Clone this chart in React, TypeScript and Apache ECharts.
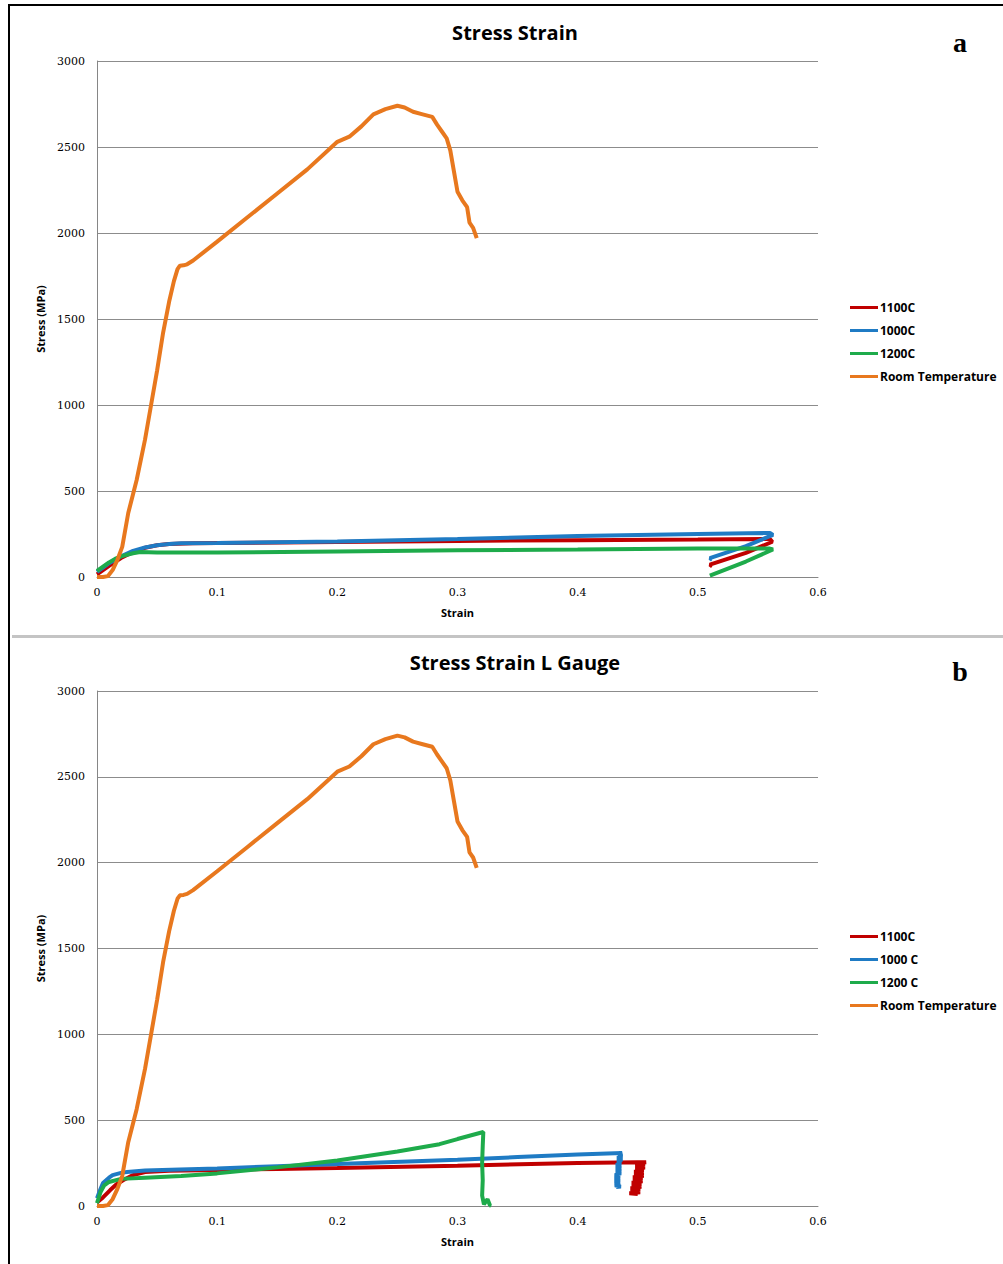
import React, { useEffect, useRef } from "react";
import * as echarts from "echarts";

// ---------- data ----------
const xTicks = [0, 0.1, 0.2, 0.3, 0.4, 0.5, 0.6];
const yTicks = [0, 500, 1000, 1500, 2000, 2500, 3000];

const legendA = ["1100C", "1000C", "1200C", "Room Temperature"];
const legendB = ["1100C", "1000 C", "1200 C", "Room Temperature"];

// Room temperature (same in both panels)
const rtStrain = [0, 0.005, 0.009, 0.013, 0.017, 0.021, 0.026, 0.033, 0.04, 0.045, 0.05, 0.055, 0.06, 0.064, 0.067, 0.069, 0.072, 0.075, 0.08, 0.1, 0.125, 0.15, 0.175, 0.2, 0.21, 0.22, 0.23, 0.24, 0.25, 0.256, 0.263, 0.271, 0.279, 0.283, 0.287, 0.291, 0.294, 0.297, 0.3, 0.304, 0.308, 0.31, 0.313, 0.316];
const rtStress = [0, 0, 5, 40, 100, 175, 372, 564, 800, 1000, 1200, 1420, 1600, 1720, 1790, 1810, 1812, 1818, 1840, 1950, 2090, 2230, 2370, 2530, 2560, 2620, 2690, 2720, 2740, 2730, 2705, 2690, 2675, 2630, 2590, 2550, 2480, 2360, 2240, 2190, 2150, 2060, 2030, 1970];

// Panel a
const aRedStrain = [0, 0.005, 0.01, 0.02, 0.03, 0.04, 0.05, 0.06, 0.08, 0.1, 0.2, 0.3, 0.4, 0.5, 0.56, 0.562, 0.54, 0.51, 0.512];
const aRedStress = [15, 40, 65, 110, 145, 170, 185, 192, 196, 198, 203, 210, 214, 218, 221, 205, 140, 72, 62];
const aBlueStrain = [0, 0.005, 0.01, 0.02, 0.03, 0.04, 0.05, 0.06, 0.07, 0.1, 0.2, 0.3, 0.4, 0.5, 0.56, 0.5625, 0.54, 0.51, 0.512];
const aBlueStress = [30, 55, 80, 120, 152, 172, 185, 192, 196, 198, 206, 221, 238, 250, 256, 245, 180, 110, 100];
const aGreenStrain = [0, 0.005, 0.01, 0.015, 0.02, 0.03, 0.036, 0.05, 0.1, 0.2, 0.3, 0.4, 0.5, 0.56, 0.5625, 0.54, 0.51];
const aGreenStress = [35, 60, 85, 105, 120, 138, 145, 143, 142, 148, 155, 160, 166, 165, 160, 90, 8];

// Panel b
const bRedStrain = [0, 0.005, 0.011, 0.016, 0.022, 0.03, 0.04, 0.06, 0.1, 0.15, 0.2, 0.3, 0.4, 0.45, 0.457,
  0.449, 0.456, 0.448, 0.456, 0.448, 0.455, 0.447, 0.455, 0.447, 0.455, 0.446, 0.454, 0.446, 0.454, 0.445, 0.453, 0.445, 0.453, 0.444, 0.452, 0.444, 0.452, 0.443, 0.45];
const bRedStress = [20, 50, 93, 125, 151, 180, 198, 205, 210, 216, 222, 235, 250, 255, 255,
  248, 240, 232, 224, 216, 208, 200, 192, 184, 176, 168, 160, 152, 144, 136, 128, 120, 112, 104, 96, 88, 80, 74, 70];
const bBlueStrain = [0, 0.003, 0.005, 0.01, 0.013, 0.02, 0.025, 0.04, 0.069, 0.1, 0.15, 0.2, 0.3, 0.35, 0.4, 0.437,
  0.434, 0.437, 0.433, 0.437, 0.433, 0.436, 0.432, 0.436, 0.432, 0.436, 0.432, 0.436, 0.431, 0.435, 0.431, 0.435, 0.431, 0.435, 0.431, 0.436, 0.432];
const bBlueStress = [45, 100, 134, 165, 180, 193, 198, 207, 213, 218, 232, 245, 270, 285, 300, 309,
  300, 290, 280, 270, 260, 250, 240, 230, 220, 210, 200, 190, 180, 170, 160, 150, 140, 130, 120, 113, 110];
const bGreenStrain = [0, 0.003, 0.006, 0.01, 0.02, 0.04, 0.07, 0.1, 0.15, 0.2, 0.25, 0.285, 0.3, 0.3215, 0.321, 0.3205, 0.321, 0.3205, 0.322, 0.325, 0.327, 0.326];
const bGreenStress = [17, 82, 120, 140, 158, 165, 175, 190, 225, 265, 318, 360, 390, 431, 350, 250, 150, 60, 10, 40, 5, 0];

const RED = "#c00000";
const BLUE = "#1f7bc4";
const GREEN = "#1eab4b";
const ORANGE = "#e8781e";

const pair = (xs: number[], ys: number[]) => xs.map((x, i) => [x, ys[i]]);

export default function App() {
  const ref = useRef<HTMLDivElement>(null);
  useEffect(() => {
    document.body.style.margin = "0";
    const chart = echarts.init(ref.current!, null, { renderer: "svg" });
    const tickFont = { fontFamily: "DejaVu Serif", fontSize: 11, color: "#000" };
    const nameFont = { fontFamily: "Open Sans", fontWeight: "bold", fontSize: 11, color: "#000" };
    const mkX = (gi: number) => ({
      type: "value",
      gridIndex: gi,
      min: xTicks[0],
      max: xTicks[xTicks.length - 1],
      interval: 0.1,
      name: "Strain",
      nameLocation: "middle",
      nameGap: 30,
      nameTextStyle: nameFont,
      axisLine: { show: true, lineStyle: { color: "#868686", width: 1 } },
      axisTick: { show: false },
      splitLine: { show: false },
      axisLabel: { ...tickFont, margin: 10, formatter: (v: number) => String(+v.toFixed(1)) },
    });
    const mkY = (gi: number) => ({
      type: "value",
      gridIndex: gi,
      min: yTicks[0],
      max: yTicks[yTicks.length - 1],
      interval: 500,
      name: "Stress (MPa)",
      nameLocation: "middle",
      nameGap: 50,
      nameRotate: 90,
      nameTextStyle: nameFont,
      axisLine: { show: true, lineStyle: { color: "#868686", width: 1 } },
      axisTick: { show: false },
      splitLine: { show: true, lineStyle: { color: "#8c8c8c", width: 1 } },
      axisLabel: { ...tickFont, margin: 12, formatter: (v: number) => String(v) },
    });
    const line = (name: string, color: string, data: number[][], gi: number) => ({
      type: "line",
      name,
      xAxisIndex: gi,
      yAxisIndex: gi,
      data,
      showSymbol: false,
      symbol: "none",
      smooth: false,
      lineStyle: { color, width: 4 },
      itemStyle: { color },
      emphasis: { disabled: true },
    });
    const legendCommon = {
      orient: "vertical",
      left: 850,
      padding: 0,
      icon: "rect",
      itemWidth: 28,
      itemHeight: 3,
      itemGap: 8,
      textStyle: { fontFamily: "Open Sans", fontWeight: "bold", fontSize: 12, lineHeight: 15, color: "#000", padding: [0, 0, 0, -3] },
    };
    const titleStyle = { fontFamily: "Open Sans", fontWeight: "bold", fontSize: 20, color: "#000" };
    chart.setOption({
      animation: false,
      backgroundColor: "#fff",
      title: [
        { text: "Stress Strain", left: 510, top: 17, textAlign: "center", textStyle: titleStyle },
        { text: "Stress Strain L Gauge", left: 510, top: 647, textAlign: "center", textStyle: titleStyle },
      ],
      legend: [
        { ...legendCommon, top: 300, data: legendA },
        { ...legendCommon, top: 929, data: legendB },
      ],
      grid: [
        { left: 97, top: 61, width: 721, height: 516 },
        { left: 97, top: 691, width: 721, height: 515 },
      ],
      xAxis: [mkX(0), mkX(1)],
      yAxis: [mkY(0), mkY(1)],
      series: [
        line("1100C", RED, pair(aRedStrain, aRedStress), 0),
        line("1000C", BLUE, pair(aBlueStrain, aBlueStress), 0),
        line("1200C", GREEN, pair(aGreenStrain, aGreenStress), 0),
        line("Room Temperature", ORANGE, pair(rtStrain, rtStress), 0),
        line("1100C", RED, pair(bRedStrain, bRedStress), 1),
        line("1000 C", BLUE, pair(bBlueStrain, bBlueStress), 1),
        line("1200 C", GREEN, pair(bGreenStrain, bGreenStress), 1),
        line("Room Temperature", ORANGE, pair(rtStrain, rtStress), 1),
      ],
      graphic: [
        { type: "rect", shape: { x: 8, y: 4, width: 2, height: 1260 }, style: { fill: "#000" }, silent: true },
        { type: "rect", shape: { x: 8, y: 4, width: 995, height: 2 }, style: { fill: "#000" }, silent: true },
        { type: "rect", shape: { x: 12, y: 635, width: 991, height: 3 }, style: { fill: "#c4c4c4" }, silent: true },
        { type: "text", x: 960, y: 42, style: { text: "a", fontFamily: "Liberation Serif", fontWeight: "bold", fontSize: 28, fill: "#000", align: "center", verticalAlign: "middle" }, silent: true },
        { type: "text", x: 960, y: 671, style: { text: "b", fontFamily: "Liberation Serif", fontWeight: "bold", fontSize: 28, fill: "#000", align: "center", verticalAlign: "middle" }, silent: true },
      ],
    });
    return () => chart.dispose();
  }, []);
  return <div ref={ref} style={{ position: "absolute", left: 0, top: 0, width: 1003, height: 1264 }} />;
}
